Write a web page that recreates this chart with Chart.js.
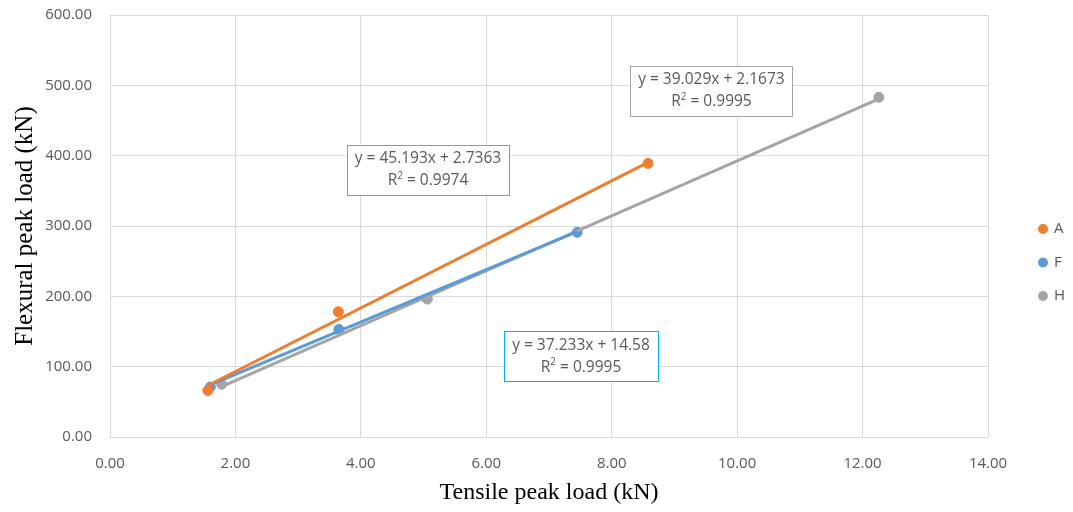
<!DOCTYPE html>
<html>
<head>
<meta charset="utf-8">
<script src="https://cdn.jsdelivr.net/npm/chart.js@4.4.0/dist/chart.umd.min.js"></script>
<style>
  html, body { margin: 0; padding: 0; background: #fff; }
</style>
</head>
<body>
<canvas id="myChart" width="1073" height="512"></canvas>
<script>
// Series names and colours
const seriesNames = ['A', 'F', 'H'];
const seriesColors = ['#ED7D31', '#5B9BD5', '#A5A5A5'];

// Measured points (tensile peak load, flexural peak load)
const xA = [1.56, 3.64, 8.58];
const yA = [66, 178, 389];
const xF = [1.60, 3.65, 7.45];
const yF = [71, 153, 291];
const xH = [1.78, 5.06, 12.26];
const yH = [75, 196, 483];

// Trendline equations shown on the chart
const slopes = [45.193, 37.233, 39.029];
const intercepts = [2.7363, 14.58, 2.1673];
const r2Values = ['0.9974', '0.9995', '0.9995'];

// Where each equation box sits (data coordinates of its centre)
const labelX = [5.07, 7.51, 9.59];
const labelY = [380, 115, 492];

// Axis ticks
const xTicks = [0, 2, 4, 6, 8, 10, 12, 14];
const yTicks = [0, 100, 200, 300, 400, 500, 600];

const allX = [xA, xF, xH];
const allY = [yA, yF, yH];

const tickFont = '"Open Sans", sans-serif';

// Build point datasets
const pointSets = seriesNames.map((name, i) => ({
    label: name,
    type: 'scatter',
    data: allX[i].map((x, j) => ({ x: x, y: allY[i][j] })),
    backgroundColor: seriesColors[i],
    borderColor: seriesColors[i],
    pointRadius: 5,
    pointHoverRadius: 5,
    order: 2
}));

// Trendlines from first to last measured x
const trendSets = seriesNames.map((name, i) => {
    const xs = allX[i];
    const x0 = Math.min(...xs), x1 = Math.max(...xs);
    return {
        label: name + ' trend',
        type: 'line',
        data: [
            { x: x0, y: slopes[i] * x0 + intercepts[i] },
            { x: x1, y: slopes[i] * x1 + intercepts[i] }
        ],
        borderColor: seriesColors[i],
        borderWidth: 3,
        pointRadius: 0,
        fill: false,
        order: 1
    };
});

// Draw the equation boxes
const equationBoxes = {
    id: 'equationBoxes',
    afterDatasetsDraw(chart) {
        const ctx = chart.ctx;
        const xs = chart.scales.x, ys = chart.scales.y;
        ctx.save();
        seriesNames.forEach((name, i) => {
            const cx = xs.getPixelForValue(labelX[i]);
            const cy = ys.getPixelForValue(labelY[i]);
            const line1 = 'y = ' + slopes[i] + 'x + ' + intercepts[i];
            const line2a = 'R';
            const line2b = ' = ' + r2Values[i];
            ctx.font = '15.5px ' + tickFont;
            const w1 = ctx.measureText(line1).width;
            const wR = ctx.measureText(line2a).width;
            const wRest = ctx.measureText(line2b).width;
            ctx.font = '10px ' + tickFont;
            const wSup = ctx.measureText('2').width;
            const w2 = wR + wSup + wRest;
            const boxW = Math.max(w1, w2) + 16;
            const boxH = 50;
            ctx.fillStyle = '#ffffff';
            ctx.fillRect(cx - boxW / 2, cy - boxH / 2, boxW, boxH);
            ctx.strokeStyle = i === 1 ? '#00B0F0' : seriesColors[i];
            ctx.lineWidth = 1;
            ctx.strokeRect(Math.round(cx - boxW / 2) + 0.5, Math.round(cy - boxH / 2) + 0.5, Math.round(boxW), boxH);
            ctx.fillStyle = '#595959';
            ctx.textBaseline = 'middle';
            ctx.textAlign = 'left';
            ctx.font = '15.5px ' + tickFont;
            ctx.fillText(line1, cx - w1 / 2, cy - 11);
            let sx = cx - w2 / 2;
            ctx.fillText(line2a, sx, cy + 11);
            sx += wR;
            ctx.font = '10px ' + tickFont;
            ctx.fillText('2', sx, cy + 6);
            sx += wSup;
            ctx.font = '15.5px ' + tickFont;
            ctx.fillText(line2b, sx, cy + 11);
        });
        ctx.restore();
    }
};

// Legend on the right, drawn by hand
const sideLegend = {
    id: 'sideLegend',
    afterDraw(chart) {
        const ctx = chart.ctx;
        ctx.save();
        ctx.font = '15px ' + tickFont;
        ctx.textBaseline = 'middle';
        ctx.textAlign = 'left';
        seriesNames.forEach((name, i) => {
            const y = 229 + i * 33.5;
            ctx.fillStyle = seriesColors[i];
            ctx.beginPath();
            ctx.arc(1043, y, 5, 0, Math.PI * 2);
            ctx.fill();
            ctx.fillStyle = '#595959';
            ctx.fillText(name, 1054, y);
        });
        ctx.restore();
    }
};

const config = {
    type: 'scatter',
    data: { datasets: pointSets.concat(trendSets) },
    options: {
        responsive: false,
        animation: false,
        layout: { autoPadding: false, padding: { top: 15, right: 85, left: 0, bottom: 0 } },
        plugins: {
            legend: { display: false },
            tooltip: { enabled: false }
        },
        scales: {
            x: {
                type: 'linear',
                min: 0,
                max: 14,
                afterBuildTicks: (axis) => { axis.ticks = xTicks.map(v => ({ value: v })); },
                afterFit: (axis) => {
                    axis.height = 75;
                    axis.paddingLeft = 0;
                    axis.paddingRight = 0;
                },
                ticks: {
                    color: '#595959',
                    font: { family: tickFont, size: 15 },
                    padding: 18,
                    callback: (v) => Number(v).toFixed(2)
                },
                grid: { color: '#d9d9d9', drawTicks: false },
                border: { display: false },
                title: {
                    display: true,
                    text: 'Tensile peak load (kN)',
                    color: '#000',
                    font: { family: '"Liberation Serif", serif', size: 24 },
                    padding: { top: 4, bottom: 5 }
                }
            },
            y: {
                type: 'linear',
                min: 0,
                max: 600,
                afterBuildTicks: (axis) => { axis.ticks = yTicks.map(v => ({ value: v })); },
                afterFit: (axis) => {
                    axis.width = 110;
                    axis.paddingTop = 0;
                    axis.paddingBottom = 0;
                },
                ticks: {
                    color: '#595959',
                    font: { family: tickFont, size: 15 },
                    padding: 18,
                    callback: (v) => Number(v).toFixed(2)
                },
                grid: { color: '#d9d9d9', drawTicks: false },
                border: { display: false },
                title: {
                    display: true,
                    text: 'Flexural peak load (kN)',
                    color: '#000',
                    font: { family: '"Liberation Serif", serif', size: 25 },
                    padding: { top: 10, bottom: 2 }
                }
            }
        }
    },
    plugins: [equationBoxes, sideLegend]
};

const chart = new Chart(document.getElementById('myChart'), config);
</script>
</body>
</html>
